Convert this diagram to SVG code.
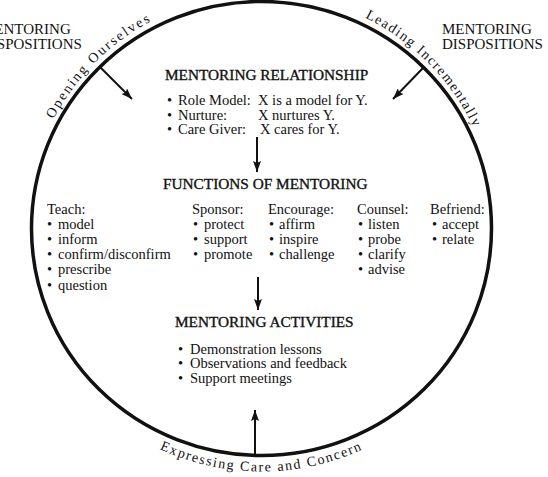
<svg xmlns="http://www.w3.org/2000/svg" width="548" height="477" viewBox="0 0 548 477">
<style>
text{font-family:"Liberation Serif","Times New Roman",serif;fill:#111}
.t{font-size:15.3px;stroke:#111;stroke-width:0.35}
.b{font-size:14.5px}
.d{font-size:15px}
.arc{font-size:14px}
.conn{stroke:#111;stroke-width:2;fill:none;marker-end:url(#ah)}
</style>
<defs>
<marker id="ah" markerUnits="userSpaceOnUse" markerWidth="11" markerHeight="8" refX="11" refY="4" orient="auto">
<path d="M0,0 L11,4 L0,8 L2,4 z" fill="#111"/>
</marker>
<path id="arcTL" d="M26.5,228.5 A235,235 0 0 1 261.5,-6.5"/>
<path id="arcTR" d="M261.5,-6.5 A235,235 0 0 1 496.5,228.5"/>
<path id="arcB" d="M51.1,350 A243,243 0 0 0 471.9,350"/>
</defs>
<rect width="548" height="477" fill="#fff"/>
<g id="ring">
<ellipse cx="261.5" cy="228.5" rx="230" ry="227" fill="none" stroke="#111" stroke-width="3.5"/>
<text class="arc" letter-spacing="2" text-anchor="middle"><textPath href="#arcTL" startOffset="50%">Opening Ourselves</textPath></text>
<text class="arc" letter-spacing="1.5" text-anchor="middle"><textPath href="#arcTR" startOffset="50.5%">Leading Incrementally</textPath></text>
<text class="arc" letter-spacing="1.6" text-anchor="middle"><textPath href="#arcB" startOffset="50%">Expressing Care and Concern</textPath></text>
</g>
<g id="disp-left">
<text class="d" x="-19" y="34">MENTORING</text>
<text class="d" x="-19" y="49">DISPOSITIONS</text>
</g>
<g id="disp-right">
<text class="d" x="442" y="34">MENTORING</text>
<text class="d" x="442" y="49">DISPOSITIONS</text>
</g>
<g id="relationship">
<text class="t" x="165" y="80">MENTORING RELATIONSHIP</text>
<text class="b"><tspan x="167" y="105">•</tspan><tspan x="178" y="105">Role Model:</tspan><tspan x="258" y="105">X is a model for Y.</tspan></text>
<text class="b"><tspan x="167" y="120">•</tspan><tspan x="178" y="120">Nurture:</tspan><tspan x="258" y="120">X nurtures Y.</tspan></text>
<text class="b"><tspan x="167" y="134">•</tspan><tspan x="178" y="134">Care Giver:</tspan><tspan x="260" y="134">X cares for Y.</tspan></text>
</g>
<g id="functions">
<text class="t" x="163" y="189">FUNCTIONS OF MENTORING</text>
</g>
<g id="teach">
<text class="b" x="47" y="214">Teach:</text>
<text class="b"><tspan x="47" y="229">•</tspan><tspan x="58" y="229">model</tspan></text>
<text class="b"><tspan x="47" y="244">•</tspan><tspan x="58" y="244">inform</tspan></text>
<text class="b"><tspan x="47" y="259">•</tspan><tspan x="58" y="259">confirm/disconfirm</tspan></text>
<text class="b"><tspan x="47" y="274">•</tspan><tspan x="58" y="274">prescribe</tspan></text>
<text class="b"><tspan x="47" y="289.5">•</tspan><tspan x="58" y="289.5">question</tspan></text>
</g>
<g id="sponsor">
<text class="b" x="192" y="214">Sponsor:</text>
<text class="b"><tspan x="193" y="229">•</tspan><tspan x="204" y="229">protect</tspan></text>
<text class="b"><tspan x="193" y="244">•</tspan><tspan x="204" y="244">support</tspan></text>
<text class="b"><tspan x="193" y="259">•</tspan><tspan x="204" y="259">promote</tspan></text>
</g>
<g id="encourage">
<text class="b" x="268" y="214">Encourage:</text>
<text class="b"><tspan x="269" y="229">•</tspan><tspan x="279" y="229">affirm</tspan></text>
<text class="b"><tspan x="269" y="244">•</tspan><tspan x="279" y="244">inspire</tspan></text>
<text class="b"><tspan x="269" y="259">•</tspan><tspan x="279" y="259">challenge</tspan></text>
</g>
<g id="counsel">
<text class="b" x="357" y="214">Counsel:</text>
<text class="b"><tspan x="358" y="229">•</tspan><tspan x="368" y="229">listen</tspan></text>
<text class="b"><tspan x="358" y="244">•</tspan><tspan x="368" y="244">probe</tspan></text>
<text class="b"><tspan x="358" y="259">•</tspan><tspan x="368" y="259">clarify</tspan></text>
<text class="b"><tspan x="358" y="274">•</tspan><tspan x="368" y="274">advise</tspan></text>
</g>
<g id="befriend">
<text class="b" x="430" y="214">Befriend:</text>
<text class="b"><tspan x="432" y="229">•</tspan><tspan x="442" y="229">accept</tspan></text>
<text class="b"><tspan x="432" y="244">•</tspan><tspan x="442" y="244">relate</tspan></text>
</g>
<g id="activities">
<text class="t" x="175" y="327">MENTORING ACTIVITIES</text>
<text class="b"><tspan x="178" y="354">•</tspan><tspan x="190" y="354">Demonstration lessons</tspan></text>
<text class="b"><tspan x="178" y="368">•</tspan><tspan x="190" y="368">Observations and feedback</tspan></text>
<text class="b"><tspan x="178" y="382.5">•</tspan><tspan x="190" y="382.5">Support meetings</tspan></text>
</g>
<g id="connectors">
<line class="conn" x1="100" y1="67" x2="132" y2="99"/>
<line class="conn" x1="423" y1="68" x2="393" y2="99"/>
<line class="conn" x1="257" y1="137" x2="257" y2="172"/>
<line class="conn" x1="258" y1="277" x2="258" y2="310"/>
<line class="conn" x1="255" y1="455" x2="255" y2="410"/>
</g>
</svg>
